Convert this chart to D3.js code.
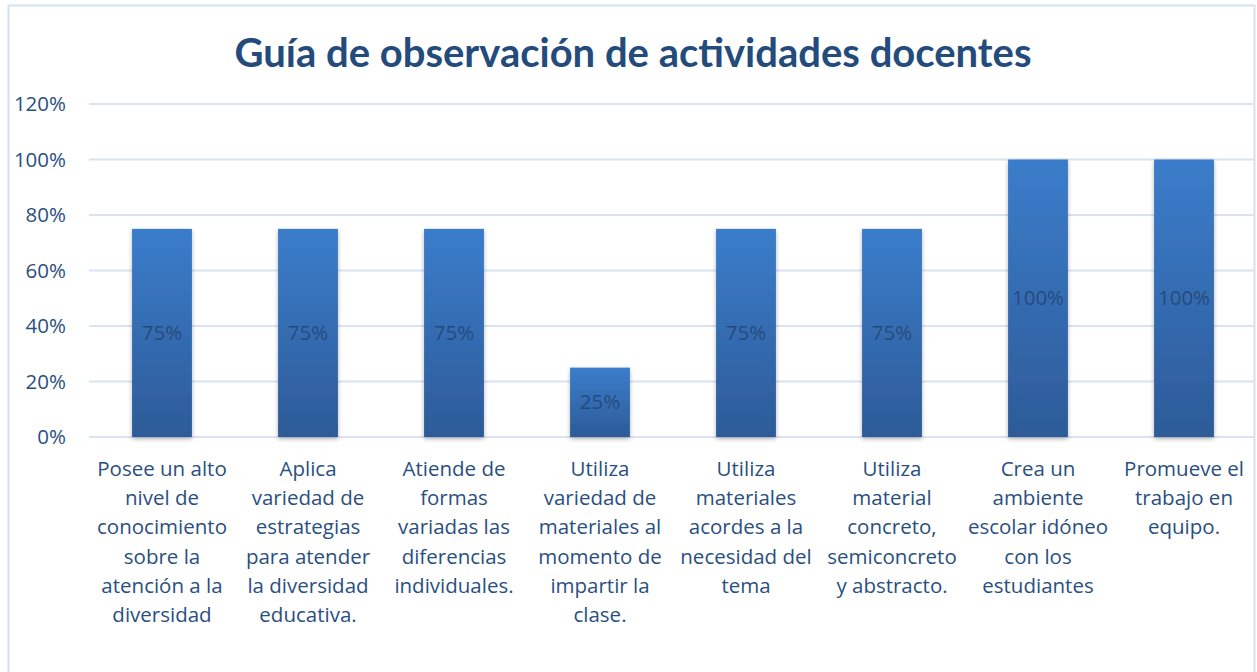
<!DOCTYPE html>
<html>
<head>
<meta charset="utf-8">
<script src="https://cdn.jsdelivr.net/npm/d3@7"></script>
<style>
  body { margin: 0; background: #fff; }
  text { font-family: "Open Sans", Lato, sans-serif; }
</style>
</head>
<body>
<div id="chart"></div>
<script>
// Chart data
const chartTitle = "Guía de observación de actividades docentes";
const categories = [
    ["Posee un alto", "nivel de", "conocimiento", "sobre la", "atención a la", "diversidad"],
    ["Aplica", "variedad de", "estrategias", "para atender", "la diversidad", "educativa."],
    ["Atiende de", "formas", "variadas las", "diferencias", "individuales."],
    ["Utiliza", "variedad de", "materiales al", "momento de", "impartir la", "clase."],
    ["Utiliza", "materiales", "acordes a la", "necesidad del", "tema"],
    ["Utiliza", "material", "concreto,", "semiconcreto", "y abstracto."],
    ["Crea un", "ambiente", "escolar idóneo", "con los", "estudiantes"],
    ["Promueve el", "trabajo en", "equipo."]
];
const values = [0.75, 0.75, 0.75, 0.25, 0.75, 0.75, 1.00, 1.00];
const yTicks = [0, 0.2, 0.4, 0.6, 0.8, 1.0, 1.2];

const W = 1257, H = 672;
const margin = {top: 104, right: 0, bottom: 235, left: 89};
const width = W - margin.left - margin.right;
const height = H - margin.top - margin.bottom;
const fontSize = "20.5px";

const svg = d3.select("#chart").append("svg")
    .attr("width", W)
    .attr("height", H);

const defs = svg.append("defs");
const grad = defs.append("linearGradient")
    .attr("id", "barGrad")
    .attr("x1", 0).attr("y1", 0).attr("x2", 0).attr("y2", 1);
grad.append("stop").attr("offset", "0%").attr("stop-color", "#3b7dcb");
grad.append("stop").attr("offset", "100%").attr("stop-color", "#2d5b98");

const shadow = defs.append("filter")
    .attr("id", "barShadow")
    .attr("x", "-20%").attr("y", "-5%").attr("width", "140%").attr("height", "115%");
shadow.append("feDropShadow")
    .attr("dx", 0).attr("dy", 2)
    .attr("stdDeviation", 2)
    .attr("flood-color", "#000")
    .attr("flood-opacity", 0.3);

// Chart border
svg.append("rect")
    .attr("x", 8.5).attr("y", 5.5)
    .attr("width", 1246).attr("height", 680)
    .attr("fill", "#fff")
    .attr("stroke", "#d6e1f0")
    .attr("stroke-width", 2);

// Title
svg.append("text")
    .attr("x", 633)
    .attr("y", 67)
    .attr("text-anchor", "middle")
    .style("font-family", "Lato, sans-serif")
    .style("font-size", "40px")
    .style("font-weight", "bold")
    .style("fill", "#234b7c")
    .text(chartTitle);

const g = svg.append("g")
    .attr("transform", `translate(${margin.left},${margin.top})`);

const x = d3.scaleBand()
    .domain(d3.range(categories.length))
    .range([0, width])
    .paddingInner(0.59)
    .paddingOuter(0.295);

const y = d3.scaleLinear()
    .domain([0, 1.2])
    .range([height, 0]);

// Gridlines
g.append("g")
    .selectAll("line")
    .data(yTicks)
    .join("line")
    .attr("x1", 0)
    .attr("x2", width - 3)
    .attr("y1", d => y(d))
    .attr("y2", d => y(d))
    .attr("stroke", "#d9e3f1")
    .attr("stroke-width", 2);

// Y axis
const yAxis = d3.axisLeft(y)
    .tickValues(yTicks)
    .tickFormat(d3.format(".0%"))
    .tickSize(0)
    .tickPadding(23);
g.append("g")
    .call(yAxis)
    .call(a => a.select(".domain").remove())
    .selectAll("text")
    .style("font-size", fontSize)
    .style("font-family", "'Open Sans', Lato, sans-serif")
    .style("fill", "#2a4f80");

// Bars
g.append("g")
    .selectAll("rect")
    .data(values)
    .join("rect")
    .attr("x", (d, i) => x(i))
    .attr("y", d => y(d))
    .attr("width", x.bandwidth())
    .attr("height", d => height - y(d))
    .attr("fill", "url(#barGrad)")
    .attr("filter", "url(#barShadow)");

// Data labels
g.append("g")
    .selectAll("text")
    .data(values)
    .join("text")
    .attr("x", (d, i) => x(i) + x.bandwidth() / 2)
    .attr("y", d => (y(d) + height) / 2 + 7)
    .attr("text-anchor", "middle")
    .style("font-size", fontSize)
    .style("fill", "#1f3f6b")
    .style("fill-opacity", 0.75)
    .text(d => d3.format(".0%")(d));

// Category labels
const labels = g.append("g")
    .selectAll("text")
    .data(categories)
    .join("text")
    .attr("x", (d, i) => x(i) + x.bandwidth() / 2)
    .attr("y", height + 39)
    .attr("text-anchor", "middle")
    .style("font-size", fontSize)
    .style("fill", "#2a4f80");

labels.selectAll("tspan")
    .data(d => d)
    .join("tspan")
    .attr("x", function() { return d3.select(this.parentNode).attr("x"); })
    .attr("dy", (d, i) => i === 0 ? 0 : 29.2)
    .text(d => d);
</script>
</body>
</html>
